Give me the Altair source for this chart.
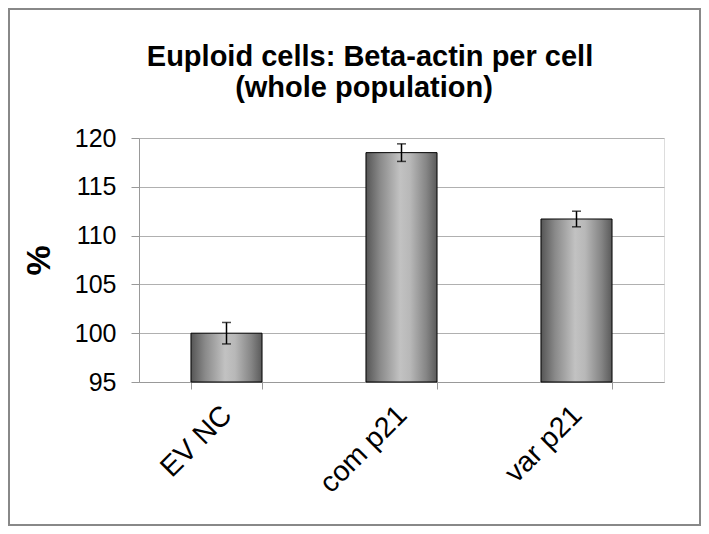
import altair as alt
import pandas as pd

groups = ["EV NC", "com p21", "var p21"]
values = [100.0, 118.5, 111.7]
errors = [1.1, 0.9, 0.8]
y_ticks = [95, 100, 105, 110, 115, 120]
BASE = 95
title_lines = ["Euploid cells: Beta-actin per cell", "(whole population)"]

df = pd.DataFrame({"group": groups, "value": values, "err": errors})
df["lo"] = df["value"] - df["err"]
df["hi"] = df["value"] + df["err"]
df["base"] = BASE

FONT = "Liberation Sans"

x_enc = alt.X(
    "group:N",
    sort=groups,
    scale=alt.Scale(paddingInner=0.594, paddingOuter=0.297),
    axis=alt.Axis(
        title=None,
        labelAngle=315,
        labelAlign="right",
        labelBaseline="middle",
        labelFontSize=28.5,
        labelColor="black",
        labelFont=FONT,
        labelPadding=21,
        tickBand="extent",
        tickSize=7,
        tickColor="#999999",
        domainColor="#999999",
        grid=False,
    ),
)

y_scale = alt.Scale(domain=[95, 120], zero=False, nice=False)

grad = alt.Gradient(
    gradient="linear",
    x1=0, x2=1, y1=0, y2=0,
    stops=[
        alt.GradientStop(color="#555555", offset=0),
        alt.GradientStop(color="#8a8a8a", offset=0.2),
        alt.GradientStop(color="#c2c2c2", offset=0.48),
        alt.GradientStop(color="#b8b8b8", offset=0.62),
        alt.GradientStop(color="#858585", offset=0.85),
        alt.GradientStop(color="#5a5a5a", offset=1),
    ],
)

bars = alt.Chart(df).mark_bar(
    color=grad, stroke="black", strokeWidth=1
).encode(
    x=x_enc,
    y=alt.Y(
        "value:Q",
        scale=y_scale,
        axis=alt.Axis(
            values=y_ticks,
            title="%",
            titleFontSize=34,
            titleFont=FONT,
            titleFontWeight="bold",
            titleColor="black",
            titleAngle=270,
            titleX=-100,
            titleY=122,
            titleAlign="center",
            titleBaseline="middle",
            labelFontSize=25,
            labelFont=FONT,
            labelColor="black",
            labelPadding=15,
            tickSize=8,
            tickColor="#999999",
            domainColor="#999999",
            gridColor="#b0b0b0",
            gridWidth=1,
        ),
    ),
    y2="base:Q",
)

rules = alt.Chart(df).mark_rule(color="black", strokeWidth=1.5).encode(
    x=alt.X("group:N", sort=groups),
    y=alt.Y("lo:Q", scale=y_scale),
    y2="hi:Q",
)
caps_lo = alt.Chart(df).mark_tick(color="black", thickness=1.5, size=9, orient="horizontal").encode(
    x=alt.X("group:N", sort=groups),
    y=alt.Y("lo:Q", scale=y_scale),
)
caps_hi = alt.Chart(df).mark_tick(color="black", thickness=1.5, size=9, orient="horizontal").encode(
    x=alt.X("group:N", sort=groups),
    y=alt.Y("hi:Q", scale=y_scale),
)

frame = alt.Chart(pd.DataFrame({"a": [0]})).mark_rect(
    filled=False, stroke="#888888", strokeWidth=2
).encode(
    x=alt.value(-130),
    x2=alt.value(561),
    y=alt.value(-129),
    y2=alt.value(387),
)

title1 = alt.Chart(pd.DataFrame({"t": [title_lines[0]]})).mark_text(
    font=FONT, fontSize=29, fontWeight="bold", color="black",
    align="center", baseline="alphabetic",
).encode(text="t:N", x=alt.value(231), y=alt.value(-72))

title2 = alt.Chart(pd.DataFrame({"t": [title_lines[1]]})).mark_text(
    font=FONT, fontSize=29, fontWeight="bold", color="black",
    align="center", baseline="alphabetic",
).encode(text="t:N", x=alt.value(225), y=alt.value(-41))

chart = alt.layer(bars, rules, caps_lo, caps_hi, frame, title1, title2).properties(
    width=525,
    height=244,
    autosize=alt.AutoSizeParams(type="none"),
    padding={"left": 131, "top": 130, "right": 37, "bottom": 144},
).configure_view(stroke=None).configure(background="white")

chart.save("out.html", embed_options={"renderer": "svg", "actions": False})
